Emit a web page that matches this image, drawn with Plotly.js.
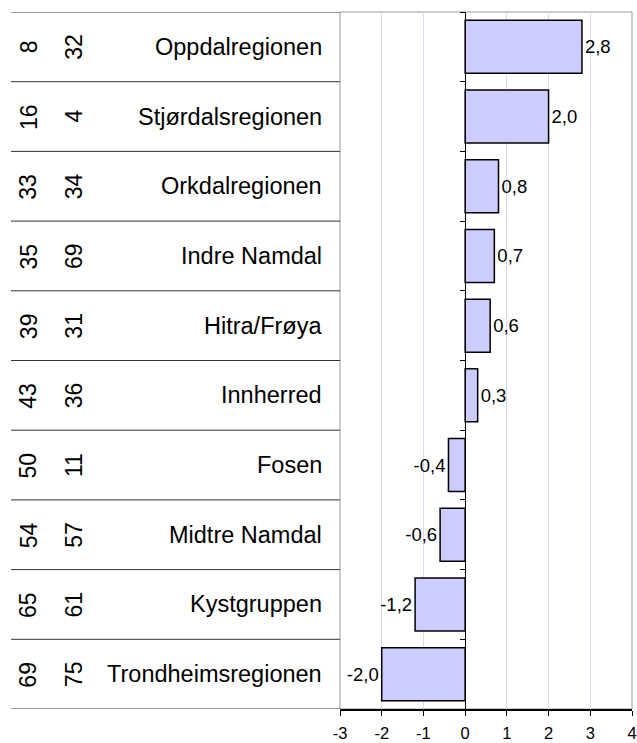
<!DOCTYPE html>
<html>
<head>
<meta charset="utf-8">
<script src="https://cdn.plot.ly/plotly-3.0.1.min.js"></script>
<style>html,body{margin:0;padding:0;background:#fff;}#chart{width:637px;height:743px;}</style>
</head>
<body>
<div id="chart"></div>
<script>
const regions = ["Oppdalregionen","Stjørdalsregionen","Orkdalregionen","Indre Namdal","Hitra/Frøya","Innherred","Fosen","Midtre Namdal","Kystgruppen","Trondheimsregionen"];
const rankA = [8,16,33,35,39,43,50,54,65,69];
const rankB = [32,4,34,69,31,36,11,57,61,75];
const values = [2.8,2.0,0.8,0.7,0.6,0.3,-0.4,-0.6,-1.2,-2.0];
const xTicks = [-3,-2,-1,0,1,2,3,4];

const W = 637, H = 743;
const m = {l:340, r:5, t:12, b:34};
const plotW = W - m.l - m.r;
const px2paper = p => (p - m.l) / plotW;

const idx = regions.map((_, i) => i);
const font = "Liberation Sans, Arial, sans-serif";

const trace = {
  type: "bar", orientation: "h",
  x: values, y: idx,
  width: 0.76,
  marker: {color: "#ccccff", line: {color: "#000", width: 1.5}},
  text: values.map(v => v.toFixed(1).replace(".", ",")),
  textposition: "outside",
  constraintext: "none",
  textfont: {family: font, size: 18.5, color: "#000"},
  outsidetextfont: {family: font, size: 18.5, color: "#000"},
  cliponaxis: false,
  hoverinfo: "skip"
};

const annotations = [];
const shapes = [];
regions.forEach((r, i) => {
  annotations.push({xref:"paper", yref:"y", x: px2paper(324), y: i, text: r, showarrow:false,
    xanchor:"right", yanchor:"middle", font:{family:font, size:23.5, color:"#000"}});
  annotations.push({xref:"paper", yref:"y", x: px2paper(28.5), y: i, text: String(rankA[i]), showarrow:false,
    textangle:-90, xanchor:"center", yanchor:"middle", font:{family:font, size:23, color:"#000"}});
  annotations.push({xref:"paper", yref:"y", x: px2paper(74), y: i, text: String(rankB[i]), showarrow:false,
    textangle:-90, xanchor:"center", yanchor:"middle", font:{family:font, size:23, color:"#000"}});
});
for (let i = 0; i <= regions.length; i++) {
  shapes.push({type:"line", xref:"paper", yref:"y", x0: px2paper(11), x1: 0, y0: i - 0.5, y1: i - 0.5,
    line:{color:"#333", width:1}});
}
shapes.push({type:"rect", xref:"paper", yref:"paper", x0:0, x1:1, y0:0, y1:1, line:{color:"#999", width:1}, layer:"below"});

const boundaries = [];
for (let i = 0; i <= regions.length; i++) boundaries.push(i - 0.5);

const layout = {
  width: W, height: H,
  margin: m,
  paper_bgcolor: "#fff", plot_bgcolor: "#fff",
  showlegend: false,
  font: {family: font, color: "#000"},
  xaxis: {
    range: [-3, 4], tickvals: xTicks, ticktext: xTicks.map(String),
    showgrid: true, gridcolor: "#d8d8f8", gridwidth: 1,
    zeroline: true, zerolinecolor: "#000", zerolinewidth: 1,
    showline: true, linecolor: "#000", linewidth: 1.5,
    ticks: "outside", ticklen: 5, tickcolor: "#000", tickwidth: 1,
    ticklabelstandoff: 4,
    tickfont: {family: font, size: 16.5, color: "#000"},
    fixedrange: true
  },
  yaxis: {
    range: [regions.length - 0.5, -0.5],
    showticklabels: false, showgrid: false, zeroline: false,
    showline: false, ticks: "", fixedrange: true
  },
  yaxis2: {
    overlaying: "y", anchor: "free", position: 3/7,
    range: [regions.length - 0.5, -0.5],
    tickvals: boundaries, showticklabels: false, showgrid: false, zeroline: false,
    showline: true, linecolor: "#000", linewidth: 1,
    ticks: "outside", ticklen: 5, tickcolor: "#000", tickwidth: 1, fixedrange: true
  },
  annotations: annotations,
  shapes: shapes,
  bargap: 0.24
};

const axisTrace = {type:"scatter", x:[0], y:[0], yaxis:"y2", mode:"markers", marker:{opacity:0}, hoverinfo:"skip"};

Plotly.newPlot("chart", [trace, axisTrace], layout, {displayModeBar:false, staticPlot:true});
</script>
</body>
</html>
